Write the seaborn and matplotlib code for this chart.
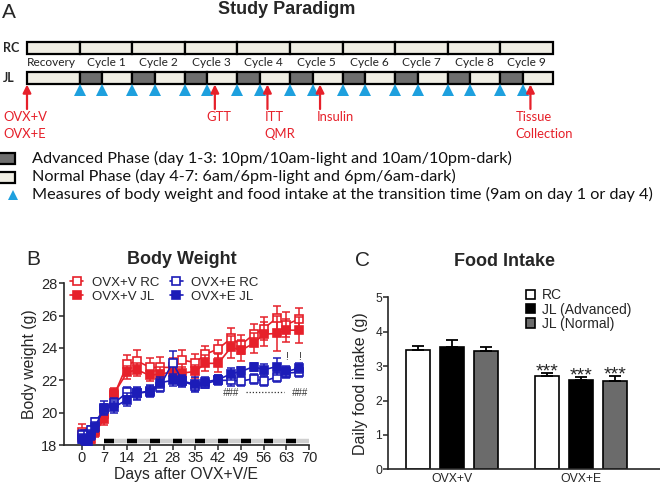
import numpy as np
import pandas as pd
import matplotlib
matplotlib.use("Agg")
import matplotlib.pyplot as plt
from matplotlib.patches import Rectangle
from matplotlib.lines import Line2D
import seaborn as sns

sns.set_style("ticks")
plt.rcParams["font.family"] = ["Liberation Sans", "DejaVu Sans"]

# ---------------- data: panel A (study paradigm) ----------------
phase_labels = ["Recovery", "Cycle 1", "Cycle 2", "Cycle 3", "Cycle 4",
                "Cycle 5", "Cycle 6", "Cycle 7", "Cycle 8", "Cycle 9"]
cycle_length = 7
advanced_length = 3
schematic_measure_days = [7, 10, 14, 17, 21, 24, 28, 31, 35, 38, 42, 45,
                          49, 52, 56, 59, 63, 66]
event_labels = ["OVX+V\nOVX+E", "GTT", "ITT\nQMR", "Insulin", "Tissue\nCollection"]
event_days = [0, 25, 32, 39, 67]
legend_a_texts = [
    "Advanced Phase (day 1-3: 10pm/10am-light and 10am/10pm-dark)",
    "Normal Phase (day 4-7: 6am/6pm-light and 6pm/6am-dark)",
    "Measures of body weight and food intake at the transition time (9am on day 1 or day 4)",
]

# ---------------- data: panel B (body weight) ----------------
days = [0, 1, 2, 3, 4, 7, 10, 14, 17, 21, 24, 28, 31, 35, 38, 42, 46, 49, 53, 56, 60, 63, 67]
v_rc = [18.8, 18.7, 18.6, 18.7, 18.9, 19.9, 21.1, 22.98, 23.2, 22.8, 22.8, 22.8, 23.25, 23.1,
        23.6, 23.95, 24.6, 24.2, 24.85, 25.2, 25.85, 25.45, 25.8]
v_rc_err = [0.5, 0.3, 0.3, 0.3, 0.3, 0.4, 0.3, 0.6, 0.65, 0.55, 0.65, 0.6, 0.65, 0.5,
            0.5, 0.55, 0.65, 0.6, 0.65, 0.7, 0.75, 0.75, 0.65]
v_jl = [18.5, 18.6, 18.5, 18.4, 18.8, 19.6, 21.2, 22.5, 22.65, 22.3, 22.4, 22.5, 22.45, 22.55,
        23.05, 23.05, 24.05, 23.85, 24.3, 24.85, 24.9, 25.1, 25.1]
v_jl_err = [0.3, 0.3, 0.3, 0.3, 0.3, 0.35, 0.3, 0.4, 0.4, 0.35, 0.45, 0.45, 0.4, 0.4,
            0.5, 0.55, 0.7, 0.65, 0.6, 0.75, 1.1, 0.7, 0.8]
e_rc = [18.6, 18.4, 18.6, 18.9, 19.4, 20.2, 20.6, 21.25, 21.2, 21.35, 21.6, 23.1, 21.95, 21.65,
        21.8, 22.0, 22.0, 21.95, 22.1, 21.95, 22.2, 22.45, 22.5]
e_rc_err = [0.3, 0.3, 0.3, 0.3, 0.3, 0.35, 0.3, 0.35, 0.35, 0.35, 0.3, 0.7, 0.3, 0.3,
            0.3, 0.3, 0.35, 0.3, 0.3, 0.3, 0.3, 0.3, 0.3]
e_jl = [18.4, 18.3, 18.2, 18.6, 19.1, 20.3, 20.35, 20.8, 21.2, 21.3, 21.85, 22.0, 21.95, 21.75,
        21.9, 22.05, 22.4, 22.55, 22.85, 22.65, 22.85, 22.55, 22.75]
e_jl_err = [0.3, 0.3, 0.3, 0.3, 0.3, 0.4, 0.4, 0.4, 0.4, 0.35, 0.35, 0.35, 0.35, 0.45,
            0.3, 0.25, 0.35, 0.3, 0.25, 0.35, 0.5, 0.35, 0.3]
series_names = ["OVX+V RC", "OVX+V JL", "OVX+E RC", "OVX+E JL"]
bw_xticks = [0, 7, 14, 21, 28, 35, 42, 49, 56, 63, 70]
bw_yticks = [18, 20, 22, 24, 26, 28]
first_cycle_day = 7
n_cycles = 9
hash_days = [46, 67]
bang_days = [63, 67]

# ---------------- data: panel C (food intake) ----------------
groups = ["OVX+V", "OVX+E"]
conditions = ["RC", "JL (Advanced)", "JL (Normal)"]
intake = [[3.48, 3.56, 3.45], [2.70, 2.60, 2.58]]
intake_err = [[0.10, 0.21, 0.10], [0.09, 0.09, 0.13]]

# ---------------- figure ----------------
W, H = 660, 486
fig = plt.figure(figsize=(W / 100, H / 100), dpi=100)
RED = "#e6202a"
BLUE = "#1c1cb8"
LIGHT = "#efede3"
DARK = "#6e6e6e"
CYAN = "#1ea0de"
A_FONT = ["Lato", "DejaVu Sans"]

# ---- Panel A : whole-figure axes in (days, pixel-row) units ----
px_per_day = 7.514
x0_px = 27
axa = fig.add_axes([0, 0, 1, 1], zorder=0)
axa.set_xlim(-x0_px / px_per_day, (W - x0_px) / px_per_day)
axa.set_ylim(H, 0)
axa.axis("off")

def day_of_px(px):
    return (px - x0_px) / px_per_day

rc_top, rc_h = 41.7, 12.3
jl_top, jl_h = 71.7, 12.3
for i, lab in enumerate(phase_labels):
    start = i * cycle_length
    axa.add_patch(Rectangle((start, rc_top), cycle_length, rc_h, fc=LIGHT, ec="black", lw=1.6))
    if i == 0:
        axa.add_patch(Rectangle((start, jl_top), cycle_length, jl_h, fc=LIGHT, ec="black", lw=1.6))
    else:
        axa.add_patch(Rectangle((start, jl_top), advanced_length, jl_h, fc=DARK, ec="black", lw=1.6))
        axa.add_patch(Rectangle((start + advanced_length, jl_top), cycle_length - advanced_length,
                                jl_h, fc=LIGHT, ec="black", lw=1.6))
    cx = start + cycle_length / 2 - (0.3 if i == 0 else 0)
    axa.text(cx, 63, lab, ha="center", va="center", fontsize=8.6, family=A_FONT, color="#222222")

axa.text(day_of_px(3), rc_top + rc_h / 2, "RC", ha="left", va="center", fontsize=9,
         fontweight="bold", family=A_FONT)
axa.text(day_of_px(3), jl_top + jl_h / 2, "JL", ha="left", va="center", fontsize=9,
         fontweight="bold", family=A_FONT)

axa.plot(schematic_measure_days, [90] * len(schematic_measure_days), ls="none", marker="^",
         markersize=8, color=CYAN, markeredgewidth=0)

label_dx = [-3.2, -1.1, -0.4, -0.4, -2.0]
for lab, d, dx in zip(event_labels, event_days, label_dx):
    axa.annotate("", xy=(d, jl_top + jl_h + 0.5), xytext=(d, 109),
                 arrowprops=dict(arrowstyle="-|>", color=RED, lw=1.6, mutation_scale=12,
                                 shrinkA=0, shrinkB=0))
    for k, line in enumerate(lab.split("\n")):
        axa.text(d + dx, 117 + 17.3 * k, line, ha="left", va="center", fontsize=9.4,
                 family=A_FONT, color=RED)

axa.text(day_of_px(287), 10, "Study Paradigm", ha="center", va="center", fontsize=13,
         fontweight="bold")
axa.text(day_of_px(2), 12.5, "A", ha="left", va="center", fontsize=15)

# panel A legend rows
axa.add_patch(Rectangle((day_of_px(-2), 153), 17 / px_per_day, 11, fc=DARK, ec="black", lw=1.6))
axa.add_patch(Rectangle((day_of_px(-2), 172), 17 / px_per_day, 11, fc=LIGHT, ec="black", lw=1.6))
axa.plot([day_of_px(13)], [194.5], marker="^", markersize=7, color=CYAN, markeredgewidth=0)
for k, t in enumerate(legend_a_texts):
    axa.text(day_of_px(31.5), [158.3, 176.7, 194][k], t, ha="left", va="center",
             fontsize=11.7, family=A_FONT, color="#111111")

# ---- Panel B : body weight ----
xb_left, xb_right = 63.5, 309.2
yb_top, yb_bot = 283.3, 445
axb = fig.add_axes([xb_left / W, (H - yb_bot) / H, (xb_right - xb_left) / W, (yb_bot - yb_top) / H],
                   zorder=2)
axb.patch.set_alpha(0)
all_series = [(v_rc, v_rc_err, RED, True), (v_jl, v_jl_err, RED, False),
              (e_rc, e_rc_err, BLUE, True), (e_jl, e_jl_err, BLUE, False)]
handles = []
for z, (vals, errs, col, is_open) in enumerate(all_series):
    axb.errorbar(days, vals, yerr=errs, fmt="none", ecolor=col, elinewidth=1.1, capsize=2.8,
                 capthick=1.1, zorder=3 + z)
    sns.lineplot(x=days, y=vals, ax=axb, color=col, marker="s", markersize=6,
                 markerfacecolor="white" if is_open else col, markeredgecolor=col,
                 markeredgewidth=1.2, linewidth=1.2, zorder=3 + z, legend=False)
    handles.append(axb.lines[-1])

# cycle indicator band
cycle_end = first_cycle_day + n_cycles * cycle_length
axb.plot([first_cycle_day, cycle_end], [18.27, 18.27], color="#cfcfcf", lw=3.2,
         solid_capstyle="butt", zorder=1)
for k in range(n_cycles):
    s = first_cycle_day + k * cycle_length
    axb.plot([s, s + advanced_length], [18.27, 18.27], color="black", lw=3.2,
             solid_capstyle="butt", zorder=2)

# significance marks
for d in hash_days:
    axb.text(d, 21.22, "###", ha="center", va="center", fontsize=7, style="italic", color="#333333")
axb.plot([50.5, 62.3], [21.3, 21.3], color="#333333", lw=0.9, ls=(0, (1, 1.5)))
for d in bang_days:
    axb.text(d, 23.45, "!", ha="center", va="center", fontsize=7.5, color="#333333")

axb.set_xlim(-5.6, 70)
axb.set_ylim(18, 28)
axb.set_xticks(bw_xticks)
axb.set_yticks(bw_yticks)
axb.tick_params(labelsize=10.5, length=3.5, width=1.1, pad=1)
for sp in ["top", "right"]:
    axb.spines[sp].set_visible(False)
for sp in ["left", "bottom"]:
    axb.spines[sp].set_linewidth(1.2)
axb.set_xlabel("Days after OVX+V/E", fontsize=11.3, labelpad=1.5)
axb.set_ylabel("Body weight (g)", fontsize=11.3, labelpad=3)
axb.legend(handles, series_names, ncol=2, loc="upper left", bbox_to_anchor=(0.005, 1.075),
           frameon=False, fontsize=9.5, handlelength=1.0, handletextpad=0.65,
           columnspacing=0.8, labelspacing=0.15, borderaxespad=0)
fig.text(181.7 / W, 1 - 260 / H, "Body Weight", ha="center", va="center", fontsize=13,
         fontweight="bold")
fig.text(26.5 / W, 1 - 259.5 / H, "B", ha="left", va="center", fontsize=15)

# ---- Panel C : food intake ----
xc_left, xc_right = 388.3, 660
yc_top, yc_bot = 297.3, 469.3
axc = fig.add_axes([xc_left / W, (H - yc_bot) / H, (xc_right - xc_left) / W, (yc_bot - yc_top) / H],
                   zorder=2)
axc.patch.set_alpha(0)
df_c = pd.DataFrame({
    "group": [g for g in groups for _ in conditions],
    "condition": [c for _ in groups for c in conditions],
    "intake": [v for row in intake for v in row],
})
sns.barplot(data=df_c, x="group", y="intake", hue="condition", order=groups,
            hue_order=conditions, palette=["white", "black", "#6b6b6b"], edgecolor="black",
            linewidth=1.2, width=0.8, gap=0.3, errorbar=None, ax=axc, legend=False)
bar_containers = list(axc.containers)
for j, cont in enumerate(bar_containers):
    for gi, bar in enumerate(cont.patches):
        cx = bar.get_x() + bar.get_width() / 2
        top = bar.get_height()
        err = intake_err[gi][j]
        axc.errorbar([cx], [top], yerr=[[0], [err]], fmt="none", ecolor="black", elinewidth=1.3,
                     capsize=4, capthick=1.3, zorder=5)
        if gi == 1:
            axc.text(cx, top + err - 0.1, "***", ha="center", va="baseline", fontsize=14)

axc.set_xlim(-0.494, 1.612)
axc.set_ylim(0, 5)
axc.set_yticks([0, 1, 2, 3, 4, 5])
axc.tick_params(axis="y", labelsize=8.7, length=3.5, width=1.1, pad=1)
axc.tick_params(axis="x", labelsize=8.8, length=0, pad=3)
for sp in ["top", "right"]:
    axc.spines[sp].set_visible(False)
for sp in ["left", "bottom"]:
    axc.spines[sp].set_linewidth(1.2)
axc.set_xlabel("")
axc.set_ylabel("Daily food intake (g)", fontsize=11.5, labelpad=5)
leg_handles = [Rectangle((0, 0), 1, 1, fc=c, ec="black", lw=1.2)
               for c in ["white", "black", "#6b6b6b"]]
axc.legend(leg_handles, conditions, loc="upper left", bbox_to_anchor=(0.485, 1.085),
           frameon=False, fontsize=10, handlelength=0.65, handleheight=0.65,
           handletextpad=0.5, labelspacing=0.02, borderaxespad=0)
fig.text(505 / W, 1 - 261.7 / H, "Food Intake", ha="center", va="center", fontsize=13,
         fontweight="bold")
fig.text(355 / W, 1 - 260.8 / H, "C", ha="left", va="center", fontsize=15)

fig.savefig("out.png", dpi=100)
